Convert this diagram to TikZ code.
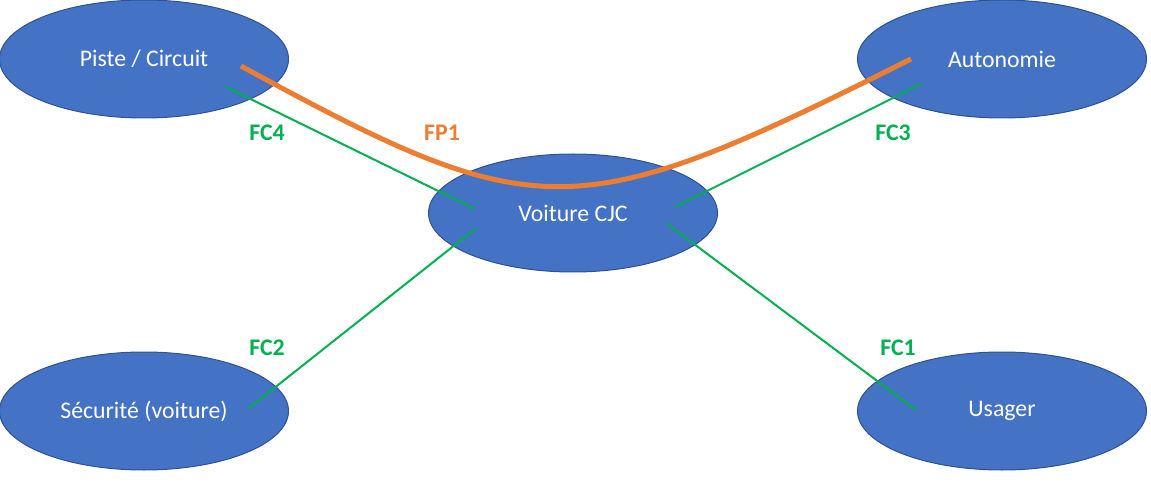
\documentclass[tikz,border=0pt]{standalone}
\usepackage{fontspec}
\setmainfont{Carlito}
\usepackage{xcolor}
\usetikzlibrary{shapes.geometric}
\definecolor{oblue}{HTML}{4472C4}
\definecolor{oblueline}{HTML}{2F528F}
\definecolor{ogreen}{HTML}{00B050}
\definecolor{oorange}{HTML}{ED7D31}
\begin{document}
\begin{tikzpicture}[
  x=1pt, y=-1pt,
  bulle/.style={ellipse, draw=oblueline, line width=1pt, fill=oblue,
                minimum width=289pt, minimum height=118pt, inner sep=0pt,
                text=white, font=\fontsize{23.8}{28}\selectfont},
  fc/.style={draw=ogreen, line width=2pt},
  fclabel/.style={text=ogreen, font=\fontsize{23.8}{28}\selectfont\bfseries},
  fp/.style={draw=oorange, line width=5pt},
  fplabel/.style={text=oorange, font=\fontsize{23.8}{28}\selectfont\bfseries}
]
\useasboundingbox (0,0) rectangle (1151,494);
% les elements du milieu exterieur
\node[bulle] (piste)    at (144,59)   {Piste / Circuit};
\node[bulle] (autonom)  at (1002,59)  {Autonomie};
\node[bulle] (voiture)  at (573,213)  {Voiture CJC};
\node[bulle] (securite) at (144,411)  {Sécurité (voiture)};
\node[bulle] (usager)   at (1002,411) {Usager};
% bouts des liaisons
\coordinate (pisteG)   at (226,87);
\coordinate (voitG1)   at (475,209);
\coordinate (voitG2)   at (675,207);
\coordinate (autonG)   at (921,84);
\coordinate (secuG)    at (249,408);
\coordinate (voitG3)   at (475,229);
\coordinate (voitG4)   at (666,223);
\coordinate (usagerG)  at (916,410);
\coordinate (pisteO)   at (241,66);
\coordinate (autonO)   at (911,59);
% fonctions contraintes
\draw[fc] (pisteG) -- (voitG1);
\draw[fc] (voitG2) -- (autonG);
\draw[fc] (secuG)  -- (voitG3);
\draw[fc] (voitG4) -- (usagerG);
% fonction principale
\draw[fp] (pisteO) .. controls (538,228) and (575,228) .. (autonO);
\node[fclabel] (fc4) at (267,133) {FC4};
\node[fplabel] (fp1) at (442,133) {FP1};
\node[fclabel] (fc3) at (893,133) {FC3};
\node[fclabel] (fc2) at (267,348) {FC2};
\node[fclabel] (fc1) at (898,348) {FC1};
\end{tikzpicture}
\end{document}
